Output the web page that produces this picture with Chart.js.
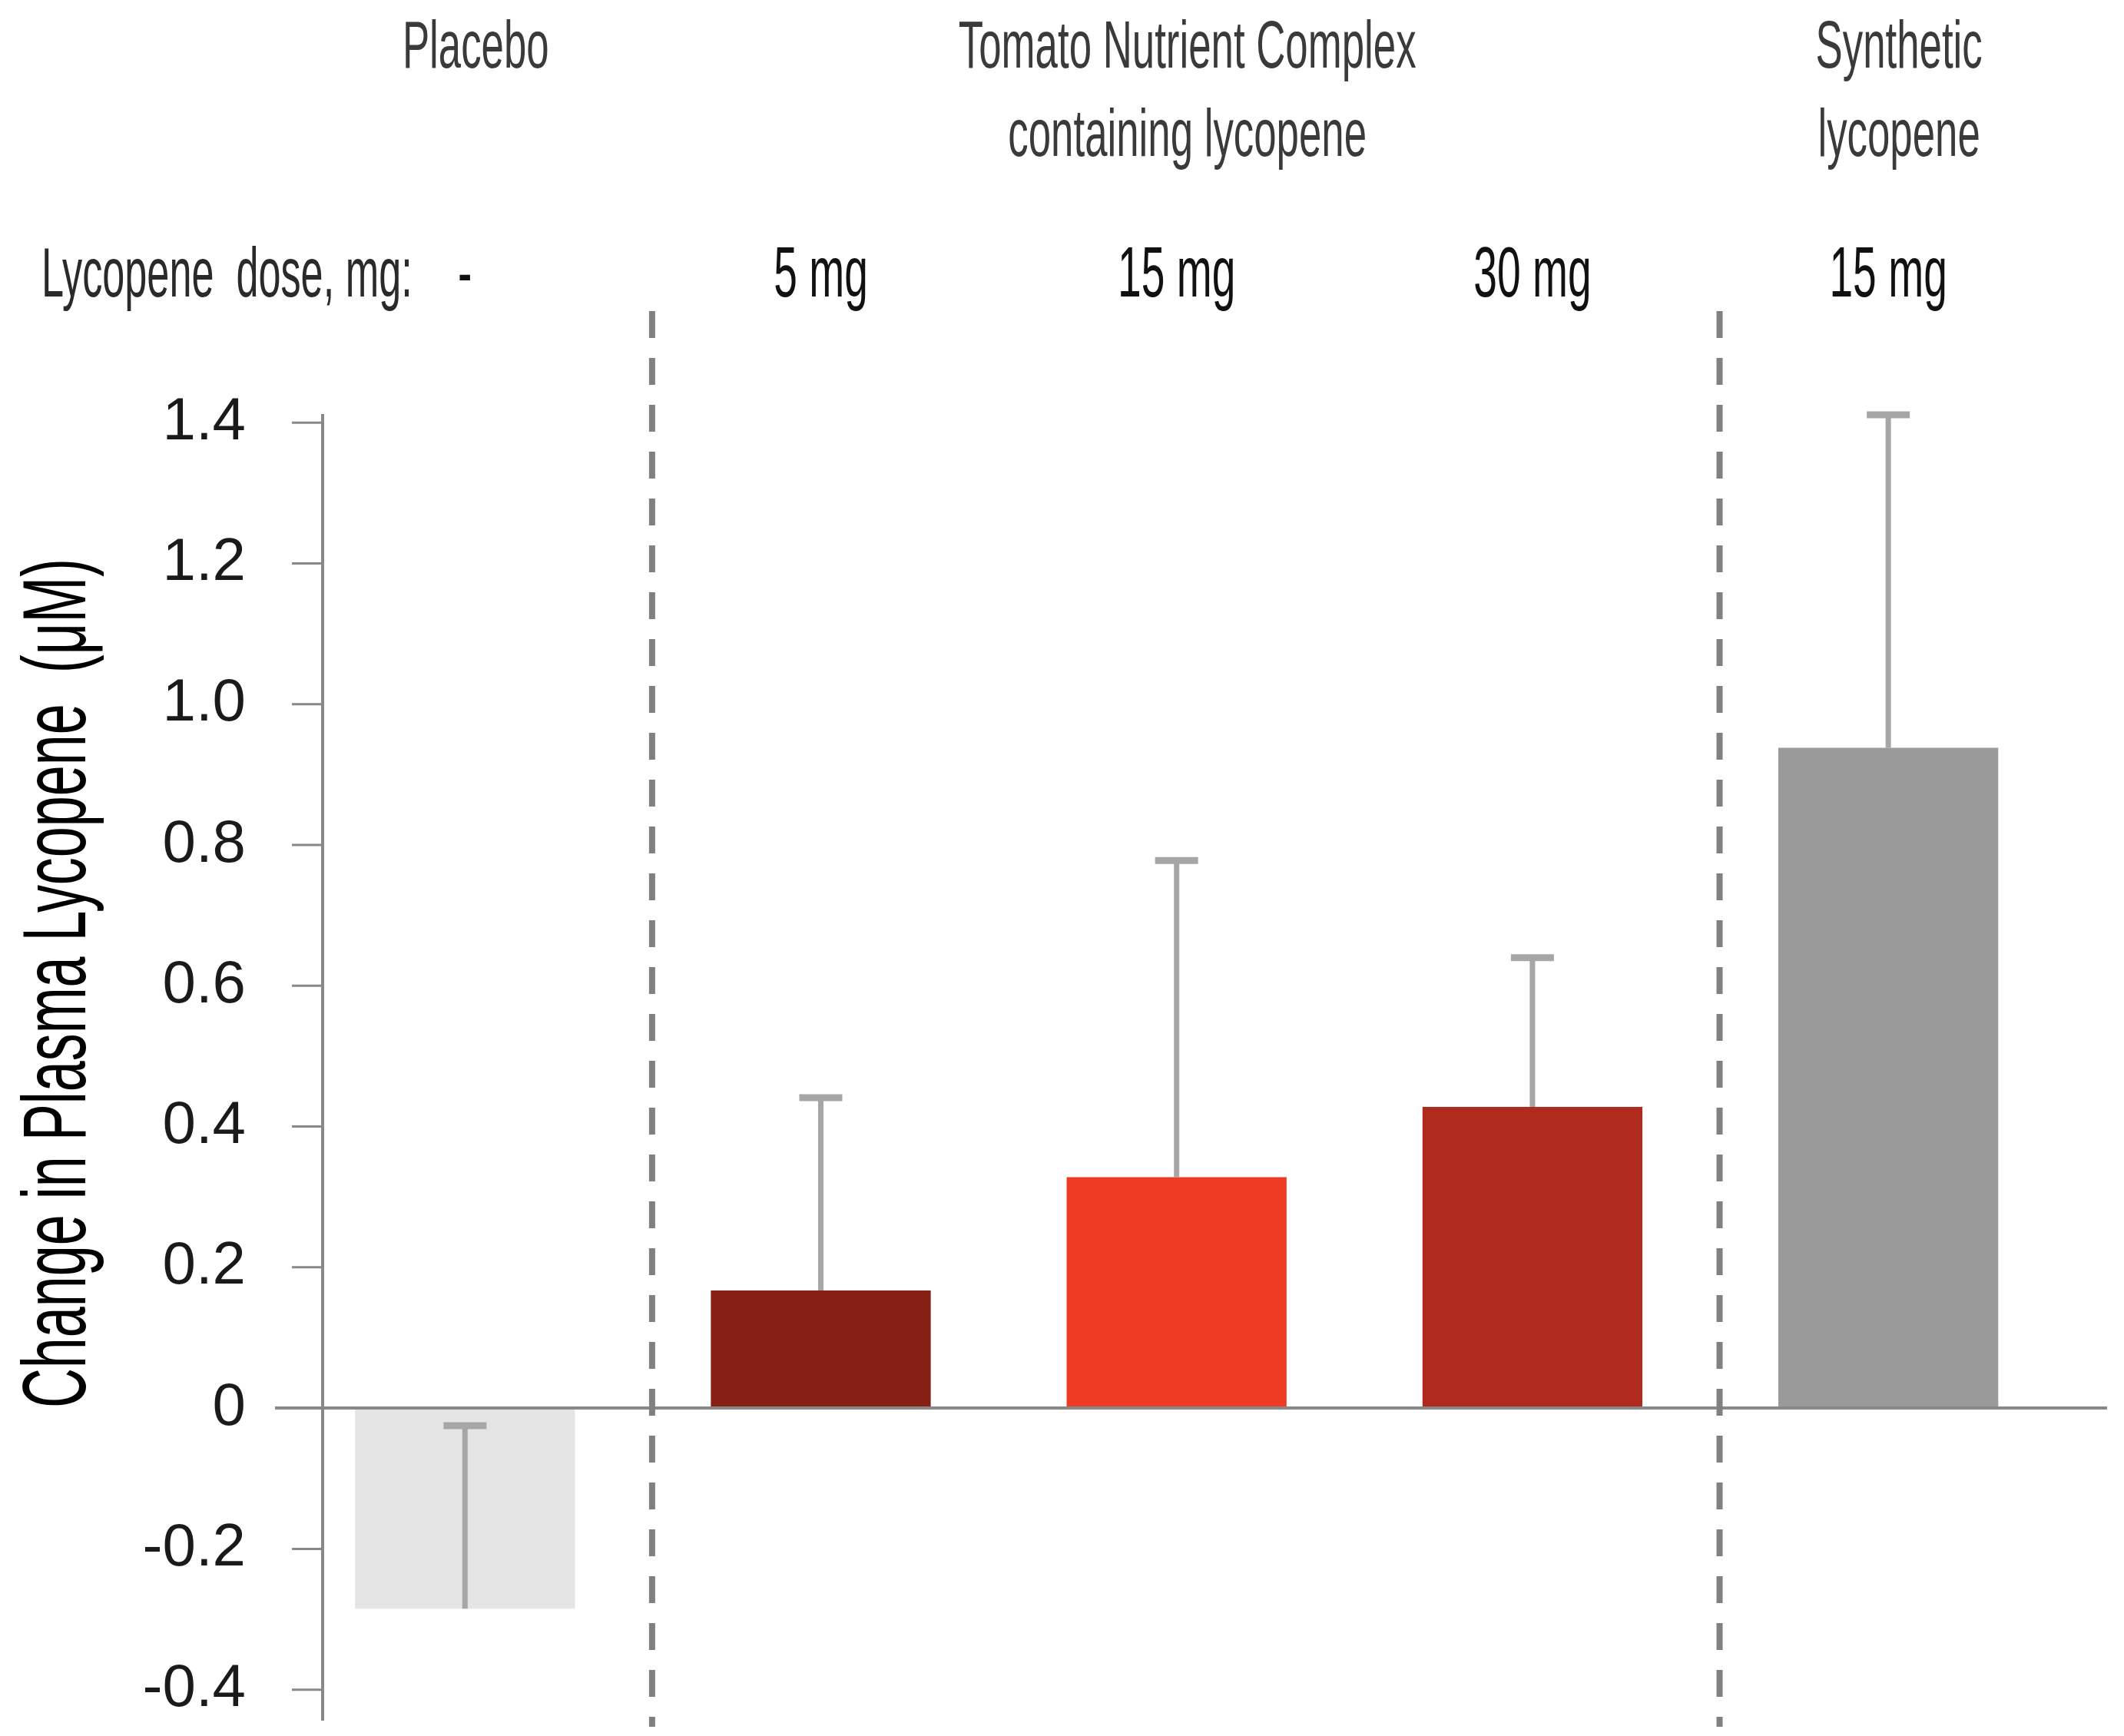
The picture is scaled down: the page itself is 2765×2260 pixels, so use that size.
<!DOCTYPE html>
<html>
<head>
<meta charset="utf-8">
<script src="https://cdn.jsdelivr.net/npm/chart.js@4.4.1/dist/chart.umd.min.js"></script>
<style>
  html, body { margin: 0; padding: 0; background: #fff; }
  #wrap { width: 2765px; height: 2260px; }
</style>
</head>
<body>
<div id="wrap"><canvas id="lycopeneChart" width="2765" height="2260"></canvas></div>
<script>
// Values (change in plasma lycopene, µM)
const doseLabels = ['-', '5 mg', '15 mg', '30 mg', '15 mg'];
const meanChange = [-0.285, 0.167, 0.328, 0.428, 0.938];
const sdChange = [0.26, 0.274, 0.45, 0.212, 0.473];
const groupOfBar = [0, 1, 1, 1, 2];
const groupNames = [
    ['Placebo'],
    ['Tomato Nutrient Complex', 'containing lycopene'],
    ['Synthetic', 'lycopene']
];
const yTicks = [-0.4, -0.2, 0, 0.2, 0.4, 0.6, 0.8, 1.0, 1.2, 1.4];

const barColors = ['#e5e5e5', '#862015', '#ee3b24', '#b02a1d', '#9a9a9a'];
const condensedFont = '"Liberation Sans", Arial, sans-serif';
const axisGrey = '#888888';

// draw narrow text by squeezing a regular font horizontally
function narrowText(ctx, text, x, y, size, color, align, squeeze) {
    ctx.save();
    ctx.font = `${size}px ${condensedFont}`;
    ctx.fillStyle = color;
    ctx.textBaseline = 'alphabetic';
    ctx.textAlign = align;
    ctx.translate(x, y);
    ctx.scale(squeeze, 1);
    ctx.fillText(text, 0, 0);
    ctx.restore();
}

const decorations = {
    id: 'decorations',
    afterDatasetsDraw(chart) {
        const ctx = chart.ctx;
        const x = chart.scales.x;
        const y = chart.scales.y;
        const meta = chart.getDatasetMeta(0);
        const left = chart.chartArea.left;

        // short tick marks on the left of the y axis (zero one a bit longer)
        ctx.save();
        ctx.strokeStyle = axisGrey;
        yTicks.forEach(v => {
            const py = y.getPixelForValue(v);
            ctx.lineWidth = v === 0 ? 4 : 3;
            ctx.beginPath();
            ctx.moveTo(left - (v === 0 ? 62 : 40), py);
            ctx.lineTo(left, py);
            ctx.stroke();
        });
        ctx.restore();

        // error bars (mean + SD)
        ctx.save();
        ctx.strokeStyle = '#a6a6a6';
        meta.data.forEach((bar, i) => {
            const top = y.getPixelForValue(meanChange[i] + sdChange[i]);
            ctx.lineWidth = 7;
            ctx.beginPath();
            ctx.moveTo(bar.x, bar.y);
            ctx.lineTo(bar.x, top);
            ctx.stroke();
            ctx.lineWidth = 9;
            ctx.beginPath();
            ctx.moveTo(bar.x - 28, top);
            ctx.lineTo(bar.x + 28, top);
            ctx.stroke();
        });
        ctx.restore();

        // dashed separators between the groups
        ctx.save();
        ctx.strokeStyle = '#808080';
        ctx.lineWidth = 8;
        ctx.setLineDash([35, 26]);
        for (let i = 1; i < groupOfBar.length; i++) {
            if (groupOfBar[i] !== groupOfBar[i - 1]) {
                const px = x.getPixelForValue(i - 0.5) + 12;
                ctx.beginPath();
                ctx.moveTo(px, 405);
                ctx.lineTo(px, 2248);
                ctx.stroke();
            }
        }
        ctx.restore();
    },
    afterDraw(chart) {
        const ctx = chart.ctx;
        const x = chart.scales.x;
        const y = chart.scales.y;

        // group headers, centred over their bars
        groupNames.forEach((lines, g) => {
            const members = groupOfBar.map((gg, i) => gg === g ? i : null).filter(v => v !== null);
            const mid = members.reduce((a, b) => a + b, 0) / members.length;
            const px = x.getPixelForValue(mid) + 14;
            lines.forEach((line, k) => {
                narrowText(ctx, line, px, 88 + k * 115, 88, '#3a3a3a', 'center', 0.6);
            });
        });

        // dose row
        narrowText(ctx, 'Lycopene  dose, mg:', 54, 386, 90, '#2a2a2a', 'left', 0.58);
        doseLabels.forEach((label, i) => {
            narrowText(ctx, label, x.getPixelForValue(i), 386, 92, '#111', 'center', 0.6);
        });

        // y axis title, ending level with the zero line
        ctx.save();
        ctx.translate(111, y.getPixelForValue(0));
        ctx.rotate(-Math.PI / 2);
        narrowText(ctx, 'Change in Plasma Lycopene  (μM)', 0, 0, 116, '#000', 'left', 0.62);
        ctx.restore();
    }
};

const ctx = document.getElementById('lycopeneChart').getContext('2d');
new Chart(ctx, {
    type: 'bar',
    data: {
        datasets: [{
            data: meanChange.map((v, i) => ({ x: i, y: v })),
            backgroundColor: barColors,
            borderWidth: 0,
            barPercentage: 0.618,
            categoryPercentage: 1
        }]
    },
    plugins: [decorations],
    options: {
        responsive: false,
        devicePixelRatio: 1,
        animation: false,
        layout: {
            padding: { top: 541, right: 22, bottom: 20, left: 0 }
        },
        plugins: {
            legend: { display: false },
            tooltip: { enabled: false }
        },
        scales: {
            x: {
                type: 'linear',
                display: false,
                offset: false,
                min: -0.4,
                max: 4.615,
                afterBuildTicks: (scale) => {
                    scale.ticks = doseLabels.map((_, i) => ({ value: i }));
                },
                grid: { display: false }
            },
            y: {
                min: -0.444,
                max: 1.41,
                afterBuildTicks: (scale) => {
                    scale.ticks = yTicks.map(v => ({ value: v }));
                },
                afterFit: (scale) => {
                    scale.width = 420;
                },
                border: { color: axisGrey, width: 4 },
                grid: {
                    color: axisGrey,
                    lineWidth: (c) => (c.tick && c.tick.value === 0 ? 4 : 0),
                    drawTicks: true,
                    tickLength: 100,
                    tickWidth: 0,
                    tickColor: 'rgba(0,0,0,0)'
                },
                ticks: {
                    padding: 0,
                    color: '#1a1a1a',
                    font: { family: 'Liberation Sans, Arial, sans-serif', size: 78, lineHeight: 0.5 },
                    callback: (v) => (v === 0 ? '0' : v.toFixed(1))
                }
            }
        }
    }
});
</script>
</body>
</html>
